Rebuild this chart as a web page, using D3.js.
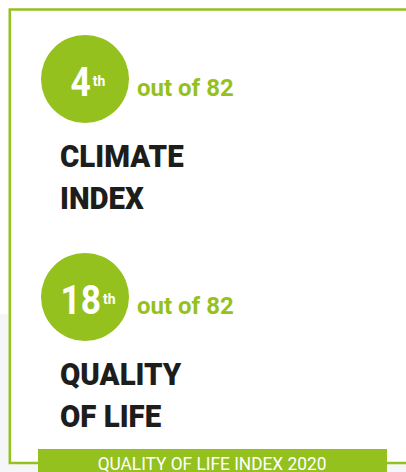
<!DOCTYPE html>
<html>
<head>
<meta charset="utf-8">
<script src="https://cdn.jsdelivr.net/npm/d3@7"></script>
<style>
  html, body { margin: 0; padding: 0; background: #fff; }
  svg { display: block; }
</style>
</head>
<body>
<div id="chart"></div>
<script>
// ranking data
const indexNames = ["CLIMATE INDEX", "QUALITY OF LIFE"];
const labelLines = [["CLIMATE", "INDEX"], ["QUALITY", "OF LIFE"]];
const ranks = [4, 18];
const rankSuffix = ["th", "th"];
const totalCities = 82;
const footerTitle = "QUALITY OF LIFE INDEX 2020";

const width = 406, height = 472;
const green = "#95c11f";
const ink = "#1d1d1b";

const svg = d3.select("#chart").append("svg")
  .attr("width", width)
  .attr("height", height);

// squeeze a text a bit, the original uses a narrower face
function condense(sel, k) {
  sel.each(function () {
    const w = this.getComputedTextLength() * k;
    d3.select(this).attr("textLength", w).attr("lengthAdjust", "spacingAndGlyphs");
  });
}

// page background: light grey outside the box in the lower part
svg.append("rect").attr("width", width).attr("height", height).attr("fill", "#fff");
svg.append("rect").attr("x", 0).attr("y", 314).attr("width", 8).attr("height", height - 314).attr("fill", "#f5f6f8");
svg.append("rect").attr("x", 0).attr("y", 464).attr("width", width).attr("height", 8).attr("fill", "#f5f6f8");

// box outline
svg.append("path")
  .attr("d", `M${width + 2},9.5 H9.8 V463 H40 M385,463 H${width + 2}`)
  .attr("fill", "none")
  .attr("stroke", green)
  .attr("stroke-width", 2.6);

const y = d3.scalePoint().domain(indexNames).range([79, 297]);
const cx = 85;

const blocks = svg.selectAll(".block")
  .data(indexNames.map((name, i) => ({ name, rank: ranks[i], suffix: rankSuffix[i], lines: labelLines[i] })))
  .join("g")
  .attr("class", "block")
  .attr("transform", (d) => `translate(0, ${y(d.name)})`);

blocks.append("circle")
  .attr("cx", cx)
  .attr("cy", 0)
  .attr("r", 44)
  .attr("fill", green);

// rank number + superscript
blocks.each(function (d) {
  const g = d3.select(this);
  const num = g.append("text")
    .attr("y", 17)
    .attr("font-family", "Roboto, sans-serif")
    .attr("font-weight", 700)
    .attr("font-size", 41)
    .attr("fill", "#fff")
    .text(d.rank);
  const sup = g.append("text")
    .attr("y", 7)
    .attr("font-family", "Roboto, sans-serif")
    .attr("font-weight", 700)
    .attr("font-size", 14)
    .attr("fill", "#fff")
    .text(d.suffix);
  const nw = num.node().getComputedTextLength() * 0.86;
  num.attr("textLength", nw).attr("lengthAdjust", "spacingAndGlyphs");
  const sw = sup.node().getComputedTextLength();
  const total = nw + 2 + sw;
  const x0 = cx + 3 - total / 2;
  num.attr("x", x0);
  sup.attr("x", x0 + nw + 2);
});

blocks.append("text")
  .attr("x", 137)
  .attr("y", 17)
  .attr("font-family", "Roboto, sans-serif")
  .attr("font-weight", 700)
  .attr("font-size", 24)
  .attr("fill", green)
  .text(`out of ${totalCities}`);

blocks.selectAll(".label")
  .data((d) => d.lines)
  .join("text")
  .attr("class", "label")
  .attr("x", 60)
  .attr("y", (d, i) => 88 + i * 42)
  .attr("font-family", "Roboto, sans-serif")
  .attr("font-weight", 900)
  .attr("font-size", 32)
  .attr("fill", ink)
  .text((d) => d)
  .call(condense, 0.92);

// footer banner
svg.append("rect")
  .attr("x", 38)
  .attr("y", 449)
  .attr("width", 349)
  .attr("height", height - 449)
  .attr("fill", green);

svg.append("text")
  .attr("x", 212)
  .attr("y", 469.5)
  .attr("text-anchor", "middle")
  .attr("font-family", "Roboto, sans-serif")
  .attr("font-weight", 400)
  .attr("font-size", 19)
  .attr("fill", "#fff")
  .text(footerTitle)
  .call(condense, 0.91);
</script>
</body>
</html>
